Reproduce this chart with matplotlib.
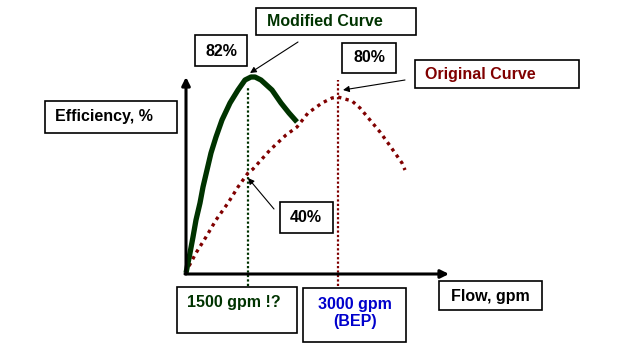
import matplotlib
matplotlib.use("Agg")
import matplotlib.pyplot as plt
from matplotlib.patches import Rectangle

# schematic curve points (flow units / efficiency units)
mod_flow = [0, 4, 7, 10, 14, 17, 21, 25, 30, 36, 44, 52, 59, 65, 69, 75,
            86, 95, 103, 111]
mod_eff = [0, 20, 36, 53, 70, 86, 103, 120, 136, 153, 170, 183, 193, 196,
           196, 193, 183, 170, 160, 151]

orig_flow = [0, 2, 10, 20, 30, 42, 52, 62, 67, 84, 100, 111, 122, 136, 146,
             152, 166, 174, 184, 194, 202, 209, 216, 219]
orig_eff = [0, 5, 20, 36, 53, 70, 86, 100, 104, 123, 138, 146, 160, 170, 175,
            176, 172, 165, 153, 141, 130, 120, 110, 103]

# marker lines: flow position, top of line
mod_bep_flow, mod_bep_top = 62, 185
orig_bep_flow, orig_bep_top = 152, 193

labels = {
    "mod_peak": "82%",
    "orig_peak": "80%",
    "orig_mid": "40%",
    "mod": "Modified Curve",
    "orig": "Original Curve",
    "ylabel": "Efficiency, %",
    "xlabel": "Flow, gpm",
    "mod_flow": "1500 gpm !?",
    "orig_flow": "3000 gpm\n(BEP)",
}

GREEN = "#003300"
RED = "#800000"
BLUE = "#0000cc"

W, H = 639, 351
fig = plt.figure(figsize=(W / 100, H / 100), dpi=100)
ax = fig.add_axes([0, 0, 1, 1])
ox, oy = 186, 273  # origin in image pixels
ax.set_xlim(-ox, W - ox)
ax.set_ylim(oy - H, oy)
ax.axis("off")

def px(x, y):
    # image pixel (top-left origin) -> data coords
    return x - ox, oy - y

# axes arrows
ax.annotate("", xy=(0, 196), xytext=(0, -1),
            arrowprops=dict(arrowstyle="-|>", lw=2.2, color="black",
                            mutation_scale=12, shrinkA=0, shrinkB=0))
ax.annotate("", xy=(263, -1), xytext=(-1, -1),
            arrowprops=dict(arrowstyle="-|>", lw=2.2, color="black",
                            mutation_scale=12, shrinkA=0, shrinkB=0))

# vertical dotted marker lines
ax.plot([mod_bep_flow, mod_bep_flow], [-13, mod_bep_top], color=GREEN,
        lw=1.6, linestyle=(0, (1, 1)))
ax.plot([orig_bep_flow, orig_bep_flow], [-13, orig_bep_top], color=RED,
        lw=1.6, linestyle=(0, (1, 1)))

# curves
ax.plot(orig_flow, orig_eff, color=RED, lw=2.4, linestyle=(0, (1, 1.3)))
ax.plot(mod_flow, mod_eff, color=GREEN, lw=3.8, solid_capstyle="butt",
        solid_joinstyle="round")

def box(x0, y0, x1, y1):
    ax.add_patch(Rectangle(px(x0, y1), x1 - x0, y1 - y0, fill=False,
                           edgecolor="black", lw=1.2))

def label(x, y, s, color="black", ha="center"):
    ax.text(*px(x, y), s, color=color, ha=ha, va="center",
            fontsize=11.5, fontweight="bold", family="Liberation Sans",
            linespacing=1.15)

box(256, 8, 416, 35)
label(267, 22, labels["mod"], GREEN, ha="left")
box(195, 35, 247, 66)
label(221, 51, labels["mod_peak"])
box(342, 43, 396, 73)
label(369, 58, labels["orig_peak"])
box(415, 60, 579, 88)
label(425, 74, labels["orig"], RED, ha="left")
box(45, 101, 177, 133)
label(55, 117, labels["ylabel"], ha="left")
box(280, 202, 333, 233)
label(306, 218, labels["orig_mid"])
box(177, 287, 297, 333)
label(187, 303, labels["mod_flow"], GREEN, ha="left")
box(303, 288, 406, 342)
label(355, 313, labels["orig_flow"], BLUE)
box(439, 281, 542, 310)
label(490, 296, labels["xlabel"])

# annotation arrows
arrow = dict(arrowstyle="-|>", lw=0.8, color="black", mutation_scale=9,
             shrinkA=0, shrinkB=0)
ax.annotate("", xy=px(250, 73), xytext=px(298, 42), arrowprops=arrow)
ax.annotate("", xy=px(343, 90), xytext=px(405, 80), arrowprops=arrow)
ax.annotate("", xy=px(248, 178), xytext=px(274, 209), arrowprops=arrow)

fig.savefig("out.png", dpi=100)
